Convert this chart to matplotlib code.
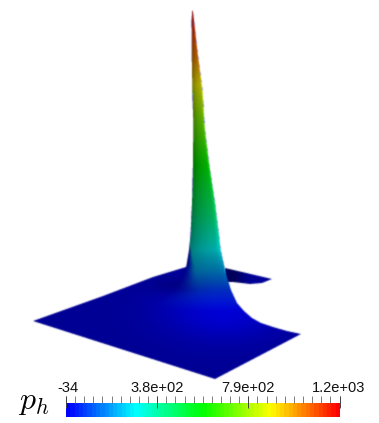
import numpy as np
import matplotlib
matplotlib.use('Agg')
import matplotlib.pyplot as plt
from matplotlib.colors import LinearSegmentedColormap
from matplotlib.path import Path

# ── DATA (pixel space of the render) ───────────────────────────────────────────
W, H = 379, 423

# spike silhouette: row, left edge, right edge
spike_rows  = [10.5, 20, 50, 90, 120, 130, 163, 203, 235, 250, 265, 277, 290, 303, 311, 318, 323, 327, 331, 334]
spike_left  = [192.2, 191.6, 191.7, 192.3, 193.2, 193.2, 193.0, 192.0, 190.5, 189.0, 186.5, 181, 170, 140, 120, 110, 105, 100, 95, 90]
spike_right = [192.8, 194.0, 197.3, 202.5, 204.3, 205.0, 209.0, 215.0, 219.0, 220.7, 224.0, 227.0, 231.0, 237, 244, 252, 261, 273, 287, 301]

# pressure along the spike, as a fraction of the scale
value_rows = [10, 30, 55, 85, 120, 165, 215, 245, 270, 290, 312]
value_frac = [0.99, 0.94, 0.87, 0.75, 0.63, 0.50, 0.37, 0.27, 0.17, 0.06, 0.0]

# flat part of the domain
floor_x = [33, 103, 153, 186, 301, 215]
floor_y = [321, 296, 277, 267, 334, 379]
wing_x  = [225, 272, 262, 250, 233, 225]
wing_y  = [268, 279, 283, 284, 282, 282]

scale_ticks  = [-34, 377, 789, 1200]
scale_labels = ['-34', '3.8e+02', '7.9e+02', '1.2e+03']
scale_colors = ['#0000ff', '#00ffff', '#00ff00', '#ffff00', '#ff0000']

plt.rcParams['font.family'] = ['Liberation Sans', 'DejaVu Sans']
plt.rcParams['mathtext.fontset'] = 'cm'

cmap = LinearSegmentedColormap.from_list('rainbow_scale', scale_colors, N=256)
bands = LinearSegmentedColormap.from_list('rainbow_bands', scale_colors, N=64)


# ── HELPERS ────────────────────────────────────────────────────────────────────
def coverage(verts):
    """Antialiased polygon coverage on the pixel grid (4x supersampled)."""
    xs = (np.arange(W * 4) + 0.5) / 4
    ys = (np.arange(H * 4) + 0.5) / 4
    gx, gy = np.meshgrid(xs, ys)
    pts = np.column_stack([gx.ravel(), gy.ravel()])
    inside = Path(verts).contains_points(pts).reshape(H * 4, W * 4)
    return inside.reshape(H, 4, W, 4).mean(axis=(1, 3))


def soften(rgba):
    """Small blur on premultiplied colour, the render is a little soft."""
    pm = rgba.copy()
    pm[..., :3] *= pm[..., 3:4]
    for axis in (0, 1):
        pm = 0.2 * np.roll(pm, 1, axis=axis) + 0.6 * pm + 0.2 * np.roll(pm, -1, axis=axis)
    a = np.maximum(pm[..., 3:4], 1e-4)
    pm[..., :3] = np.clip(pm[..., :3] / a, 0, 1)
    return pm


# ── SHADE THE SURFACE ──────────────────────────────────────────────────────────
xx, yy = np.meshgrid(np.arange(W) + 0.5, np.arange(H) + 0.5)
left = np.interp(yy, spike_rows, spike_left)
right = np.interp(yy, spike_rows, spike_right)
u = np.clip((xx - left) / np.maximum(right - left, 1), 0, 1)
on_spike = (xx >= left) & (xx <= right)

# lower down the value climbs smoothly out of the floor
fade_width = np.interp(yy, [245, 275, 310], [0.02, 0.35, 0.75])
ramp = np.clip(u / fade_width, 0, 1)
ramp = ramp * ramp * (3 - 2 * ramp)
val = np.interp(yy, value_rows, value_frac) * ramp * on_spike

glow = np.exp(-((xx - 224) / 62) ** 2 - ((yy - 310) / 30) ** 2)
floor_light = 0.58 + 0.26 * glow
# shadow where the spike rises out of the floor on its left
floor_light -= 0.12 * np.exp(-((xx - 176) / 24) ** 2 - ((yy - 286) / 9) ** 2)

spike_light = 0.38 + 0.32 * u ** 0.45 + 0.14 * np.clip((u - 0.85) / 0.15, 0, 1)
spike_w = np.clip((290 - yy) / 45, 0, 1) * on_spike
light = floor_light * (1 - spike_w) + spike_light * spike_w

rgb = cmap(val)[..., :3] * light[..., None]

outline = list(zip(floor_x[:4], floor_y[:4]))
outline += [(lx, row) for row, lx in zip(spike_rows[::-1], spike_left[::-1]) if row < 267]
outline += [(rx, row) for row, rx in zip(spike_rows, spike_right)]
outline += [(floor_x[5], floor_y[5]), (floor_x[0], floor_y[0])]
alpha = coverage(outline)

wing_rgb = np.zeros((H, W, 3))
wing_rgb[..., 2] = 0.60 - 0.25 * np.exp(-((xx - 232) / 12) ** 2)
wing_alpha = coverage(list(zip(wing_x, wing_y)) + [(wing_x[0], wing_y[0])])

# ── FIGURE ─────────────────────────────────────────────────────────────────────
fig = plt.figure(figsize=(W / 100, H / 100), dpi=100)
ax = fig.add_axes([0, 0, 1, 1])
ax.axis('off')

ax.imshow(soften(np.dstack([wing_rgb, wing_alpha])), extent=(0, W, H, 0),
          interpolation='nearest', aspect='auto', zorder=1)
ax.imshow(soften(np.dstack([rgb, alpha])), extent=(0, W, H, 0),
          interpolation='nearest', aspect='auto', zorder=2)
ax.set_xlim(0, W)
ax.set_ylim(H, 0)

ax.text(18, 409, r'$p_h$', fontsize=23, color='black', va='baseline', ha='left')

# ── SCALE BAR ──────────────────────────────────────────────────────────────────
bar_l, bar_r, bar_t, bar_b = 66, 339.5, 403, 416.5
cax = fig.add_axes([bar_l / W, 1 - bar_b / H, (bar_r - bar_l) / W, (bar_b - bar_t) / H])
grad = np.linspace(0, 1, 256).reshape(1, -1)
cax.imshow(grad, cmap=bands, aspect='auto', extent=(scale_ticks[0], scale_ticks[-1], 0, 1),
           interpolation='nearest')
cax.axis('off')
cax.set_xlim(scale_ticks[0], scale_ticks[-1])
cax.set_ylim(0, 1)

# ticks above the bar, the long ones reach into it
tick_top = 1 + 7 / (bar_b - bar_t)
cax.vlines(np.linspace(scale_ticks[0], scale_ticks[-1], 31), 1, tick_top,
           color='#666666', lw=0.6, clip_on=False)
cax.vlines(scale_ticks, 0.62, tick_top, color='#444444', lw=0.7, clip_on=False)

label_x = [68, 157, 248, 339]
for x_pos, lab in zip(label_x, scale_labels):
    ax.text(x_pos, 392, lab, fontsize=10.5, color='#111111', ha='center', va='baseline')

fig.savefig('out.png', dpi=100, facecolor='white')
